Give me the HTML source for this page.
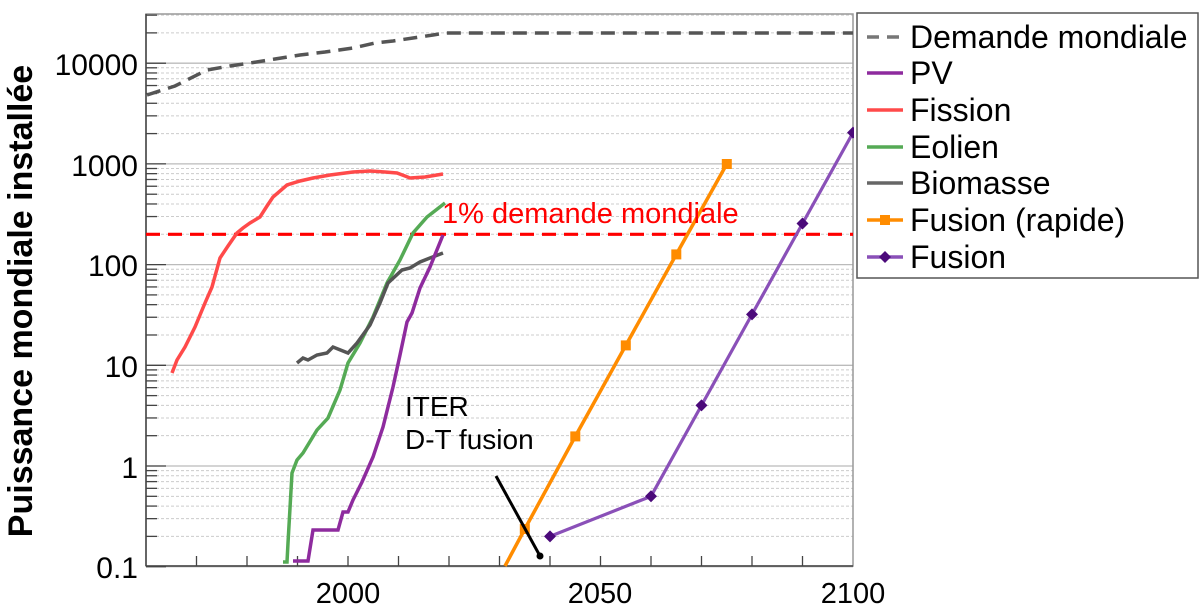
<!DOCTYPE html>
<html><head><meta charset="utf-8"><style>
html,body{margin:0;padding:0;background:#fff;}
svg{display:block;font-family:"Liberation Sans",Arial,sans-serif;}
</style></head><body>
<svg width="1200" height="612" viewBox="0 0 1200 612" xmlns="http://www.w3.org/2000/svg">
<g id="grid"></g>
<rect x="146" y="14" width="707" height="552" fill="none" stroke="#999" stroke-width="1.5"/>
<line x1="146" y1="14" x2="146" y2="566" stroke="#444" stroke-width="1.5"/>
<line x1="146" y1="566" x2="853" y2="566" stroke="#444" stroke-width="1.5"/>
<g id="ticks" stroke="#444" stroke-width="1.3"></g>
<g font-size="30" text-anchor="end" fill="#000">
<text x="138" y="75">10000</text>
<text x="138" y="176">1000</text>
<text x="138" y="276">100</text>
<text x="138" y="377">10</text>
<text x="138" y="478">1</text>
<text x="138" y="578">0.1</text>
</g>
<g font-size="29" text-anchor="middle">
<text x="348" y="603">2000</text>
<text x="600" y="603">2050</text>
<text x="853" y="603">2100</text>
</g>
<text transform="translate(32,301) rotate(-90)" font-size="34" font-weight="bold" text-anchor="middle">Puissance mondiale installée</text>
<svg x="146" y="14" width="708" height="553" viewBox="146 14 708 553" overflow="hidden">
<polyline fill="none" stroke="#555" stroke-width="3.5" stroke-dasharray="14,8" points="147,95 175,86 207,70 230,66 250,63 275,59 300,55 325,52 353,48 375,43 393,41 413,38 433,35 445,33 853,33"/>
<line x1="146" y1="234.3" x2="853" y2="234.3" stroke="#f00" stroke-width="3.2" stroke-dasharray="14,8"/>
<polyline fill="none" stroke="#ff4a4a" stroke-width="3.5" points="172,373 177,360 185,347 195,327 205,303 212,287 220,258 228,246 237,233 243,228 250,223 260,217 267,206 273,197 287,185 300,181 313,178 330,175 353,172 370,171 385,172 397,173 405,176 410,178 425,177 443,174"/>
<polyline fill="none" stroke="#55aa55" stroke-width="3.5" points="283,562 287,562 288,543 292,473 297,460 303,453 317,430 328,418 340,390 348,363 360,343 373,317 387,283 400,260 413,233 427,217 445,203"/>
<polyline fill="none" stroke="#555" stroke-width="3.5" points="297,363 303,358 308,360 317,355 327,353 333,347 348,353 357,343 370,325 380,303 388,283 402,270 410,268 420,262 430,258 443,253"/>
<polyline fill="none" stroke="#8e2b9e" stroke-width="3.5" points="293,561 308,561 313,530 338,530 343,512 348,512 353,500 362,482 373,457 383,427 393,387 400,355 407,322 412,313 420,288 430,267 443,235"/>
<polyline fill="none" stroke="#ff8c00" stroke-width="3.5" points="505,566 524.8,529 575.3,436.4 625.8,345.4 676.3,254.4 726.8,164"/>
<g fill="#ff8c00">
<rect x="519.8" y="524" width="10" height="10"/>
<rect x="570.3" y="431.4" width="10" height="10"/>
<rect x="620.8" y="340.4" width="10" height="10"/>
<rect x="671.3" y="249.4" width="10" height="10"/>
<rect x="721.8" y="159" width="10" height="10"/>
</g>
<polyline fill="none" stroke="#8a50b8" stroke-width="3.2" points="550,536.4 651,496.3 701.5,405.4 752,314.4 802.5,223.5 853,132.6"/>
<g fill="#4b0a7a" id="dia"></g>
<line x1="496" y1="476" x2="540" y2="556" stroke="#000" stroke-width="3"/>
<circle cx="540" cy="556" r="3.5" fill="#000"/>
</svg>
<text x="442" y="223" font-size="29" fill="#f00">1% demande mondiale</text>
<text x="405" y="416" font-size="28">ITER</text>
<text x="405" y="449" font-size="28">D-T fusion</text>
<rect x="857" y="13" width="341" height="265" fill="#fff" stroke="#555" stroke-width="1.5"/>
<g stroke-width="3.5">
<line x1="867" y1="37" x2="903" y2="37" stroke="#777" stroke-dasharray="12,8"/>
<line x1="867" y1="73" x2="903" y2="73" stroke="#8e2b9e"/>
<line x1="867" y1="110" x2="903" y2="110" stroke="#ff4a4a"/>
<line x1="867" y1="147" x2="903" y2="147" stroke="#55aa55"/>
<line x1="867" y1="183" x2="903" y2="183" stroke="#666"/>
<line x1="867" y1="220" x2="903" y2="220" stroke="#ff8c00"/>
<line x1="867" y1="257" x2="903" y2="257" stroke="#8a50b8"/>
</g>
<rect x="880" y="215" width="10" height="10" fill="#ff8c00"/>
<polygon points="885,251 891,257 885,263 879,257" fill="#4b0a7a"/>
<g font-size="32">
<text x="910" y="48">Demande mondiale</text>
<text x="910" y="84">PV</text>
<text x="910" y="121">Fission</text>
<text x="910" y="158">Eolien</text>
<text x="910" y="194">Biomasse</text>
<text x="910" y="231">Fusion (rapide)</text>
<text x="910" y="268">Fusion</text>
</g>
<script>
(function(){
var ns="http://www.w3.org/2000/svg";
function y(v){return 566.7-100.7*(Math.log10(v)+1);}
var g=document.getElementById("grid"),t=document.getElementById("ticks");
function ln(p,a){var e=document.createElementNS(ns,"line");for(var k in a)e.setAttribute(k,a[k]);p.appendChild(e);}
for(var d=-1;d<=4;d++){for(var m=1;m<=9;m++){var v=m*Math.pow(10,d);var yy=y(v);if(yy<14||yy>567)continue;
 if(m==1){ln(g,{x1:146,x2:853,y1:yy,y2:yy,stroke:"#bbb","stroke-width":1.3});ln(t,{x1:146,x2:166,y1:yy,y2:yy});}
 else{ln(g,{x1:146,x2:853,y1:yy,y2:yy,stroke:"#ccc","stroke-width":1,"stroke-dasharray":"3,2"});ln(t,{x1:146,x2:157,y1:yy,y2:yy});}
}}
for(var yr=1970;yr<2100;yr+=10){var x=348+(yr-2000)*5.05;ln(t,{x1:x,x2:x,y1:566,y2:556});}
var dd=document.getElementById("dia");
[[550,536.4],[651,496.3],[701.5,405.4],[752,314.4],[802.5,223.5],[853,132.6]].forEach(function(p){
var e=document.createElementNS(ns,"polygon");e.setAttribute("points",(p[0])+","+(p[1]-6)+" "+(p[0]+6)+","+p[1]+" "+p[0]+","+(p[1]+6)+" "+(p[0]-6)+","+p[1]);dd.appendChild(e);});
})();
</script>
</svg>
</body></html>
